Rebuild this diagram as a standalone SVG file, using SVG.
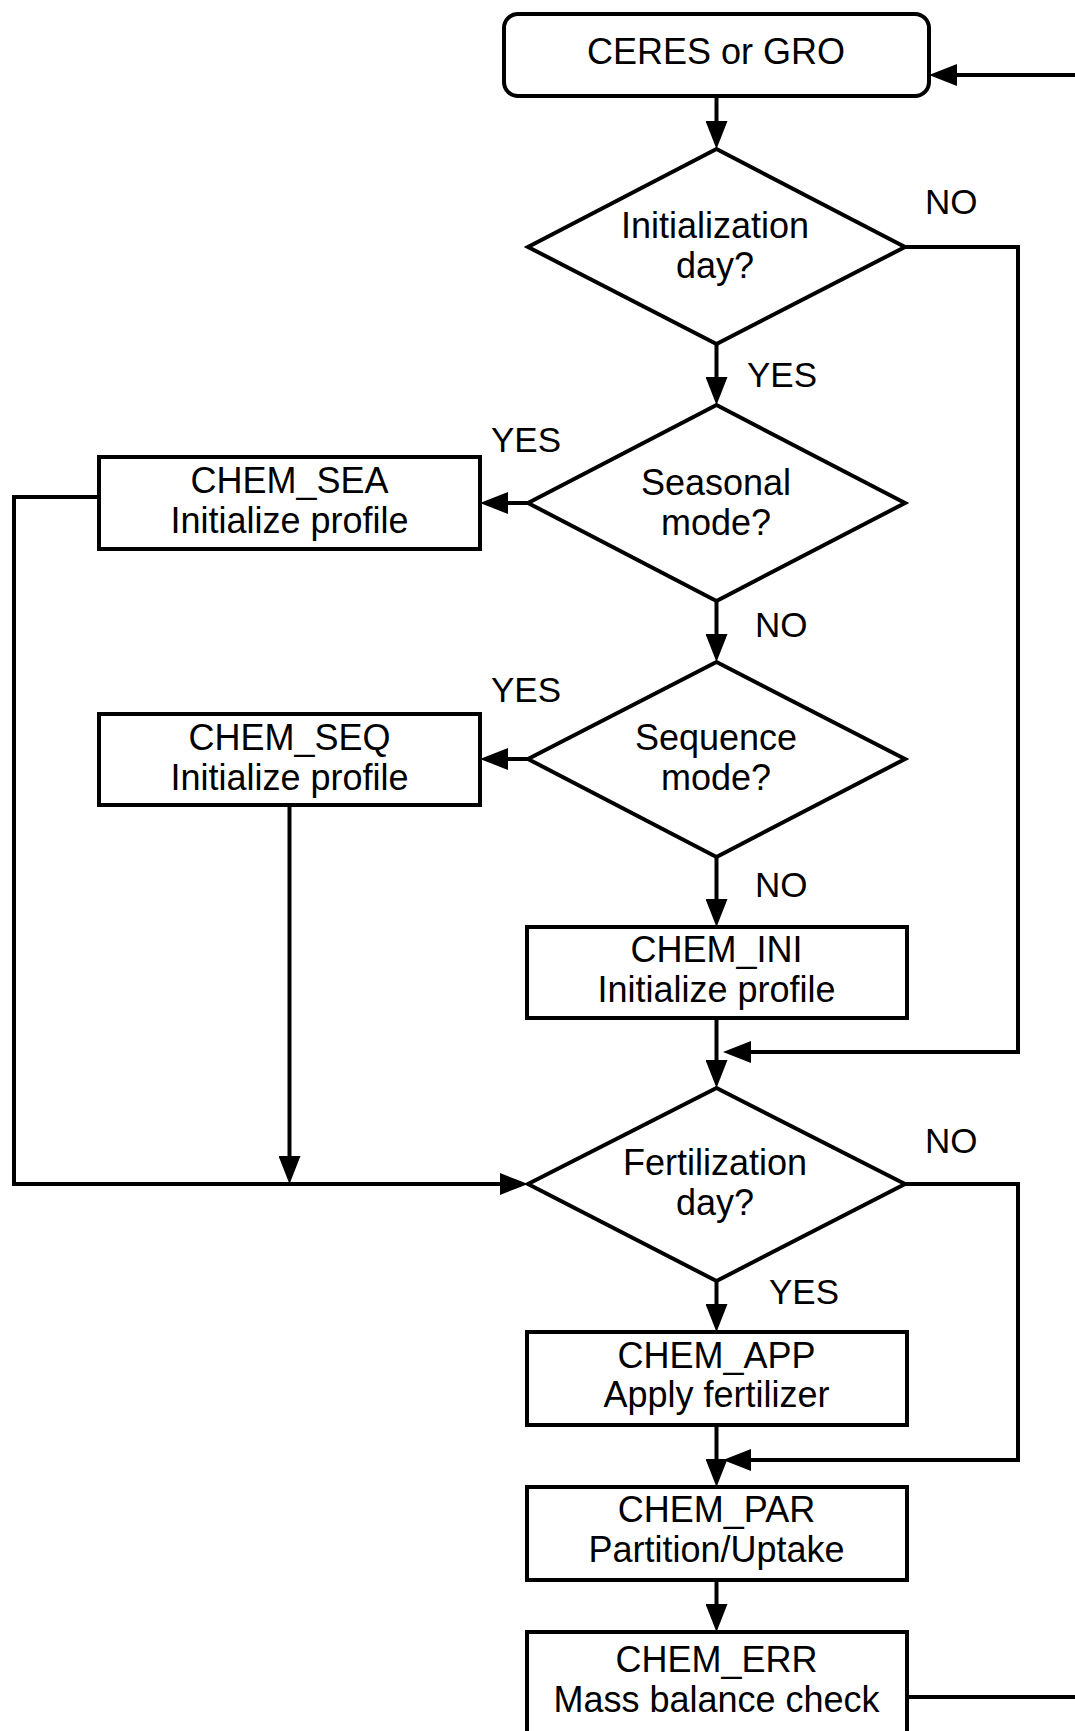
<svg xmlns="http://www.w3.org/2000/svg" width="1075" height="1731" viewBox="0 0 1075 1731">
<defs>
<style>
.box{fill:#fff;stroke:#000;stroke-width:4}
.t{font-family:"Liberation Sans",Arial,sans-serif;font-size:36px;text-anchor:middle;fill:#000}
.lbl{font-family:"Liberation Sans",Arial,sans-serif;font-size:35px;fill:#000}
.c{fill:none;stroke:#000;stroke-width:4}
</style>
<marker id="ah" viewBox="0 0 28 22" refX="22" refY="11" markerWidth="28" markerHeight="22" markerUnits="userSpaceOnUse" orient="auto"><path d="M0,0 L28,11 L0,22 z" fill="#000"/></marker>
</defs>
<rect width="1075" height="1731" fill="#fff"/>
<g id="connectors">
<path class="c" d="M1075,75 H935" marker-end="url(#ah)"/>
<path class="c" d="M716.5,96 V143" marker-end="url(#ah)"/>
<path class="c" d="M905,247 H1018 V1052 H729" marker-end="url(#ah)"/>
<path class="c" d="M716.5,344 V399" marker-end="url(#ah)"/>
<path class="c" d="M528,503 H486" marker-end="url(#ah)"/>
<path class="c" d="M99,497 H14 V1184 H522" marker-end="url(#ah)"/>
<path class="c" d="M716.5,601 V656" marker-end="url(#ah)"/>
<path class="c" d="M528,759 H486" marker-end="url(#ah)"/>
<path class="c" d="M289.5,805 V1178" marker-end="url(#ah)"/>
<path class="c" d="M716.5,857 V921" marker-end="url(#ah)"/>
<path class="c" d="M716.5,1018 V1082" marker-end="url(#ah)"/>
<path class="c" d="M905,1184 H1018 V1460 H729" marker-end="url(#ah)"/>
<path class="c" d="M716.5,1281 V1326" marker-end="url(#ah)"/>
<path class="c" d="M716.5,1425 V1481" marker-end="url(#ah)"/>
<path class="c" d="M716.5,1580 V1626" marker-end="url(#ah)"/>
<path class="c" d="M907,1697 H1075"/>
<text class="lbl" x="925" y="214">NO</text>
<text class="lbl" x="747" y="387">YES</text>
<text class="lbl" x="491" y="452">YES</text>
<text class="lbl" x="755" y="637">NO</text>
<text class="lbl" x="491" y="702">YES</text>
<text class="lbl" x="755" y="897">NO</text>
<text class="lbl" x="925" y="1153">NO</text>
<text class="lbl" x="769" y="1304">YES</text>
</g>
<g id="start">
<rect class="box" x="504" y="14" width="425" height="82" rx="14"/>
<text class="t" x="716" y="64">CERES or GRO</text>
</g>
<g id="init_day">
<polygon class="box" points="716.5,149 905,247 716.5,344 528,247"/>
<text class="t" x="715" y="238">Initialization</text>
<text class="t" x="715" y="278">day?</text>
</g>
<g id="seasonal">
<polygon class="box" points="716.5,405 905,503 716.5,601 528,503"/>
<text class="t" x="716" y="495">Seasonal</text>
<text class="t" x="716" y="535">mode?</text>
</g>
<g id="chem_sea">
<rect class="box" x="99" y="457" width="381" height="92"/>
<text class="t" x="289.5" y="493">CHEM_SEA</text>
<text class="t" x="289.5" y="533">Initialize profile</text>
</g>
<g id="sequence">
<polygon class="box" points="716.5,662 905,759 716.5,857 528,759"/>
<text class="t" x="716" y="750">Sequence</text>
<text class="t" x="716" y="790">mode?</text>
</g>
<g id="chem_seq">
<rect class="box" x="99" y="714" width="381" height="91"/>
<text class="t" x="289.5" y="750">CHEM_SEQ</text>
<text class="t" x="289.5" y="790">Initialize profile</text>
</g>
<g id="chem_ini">
<rect class="box" x="527" y="927" width="380" height="91"/>
<text class="t" x="716.5" y="962">CHEM_INI</text>
<text class="t" x="716.5" y="1002">Initialize profile</text>
</g>
<g id="fert_day">
<polygon class="box" points="716.5,1088 905,1184 716.5,1281 528,1184"/>
<text class="t" x="715" y="1175">Fertilization</text>
<text class="t" x="715" y="1215">day?</text>
</g>
<g id="chem_app">
<rect class="box" x="527" y="1332" width="380" height="93"/>
<text class="t" x="716.5" y="1368">CHEM_APP</text>
<text class="t" x="716.5" y="1407">Apply fertilizer</text>
</g>
<g id="chem_par">
<rect class="box" x="527" y="1487" width="380" height="93"/>
<text class="t" x="716.5" y="1522">CHEM_PAR</text>
<text class="t" x="716.5" y="1562">Partition/Uptake</text>
</g>
<g id="chem_err">
<rect class="box" x="527" y="1632" width="380" height="120"/>
<text class="t" x="716.5" y="1672">CHEM_ERR</text>
<text class="t" x="716.5" y="1712">Mass balance check</text>
</g>
</svg>
